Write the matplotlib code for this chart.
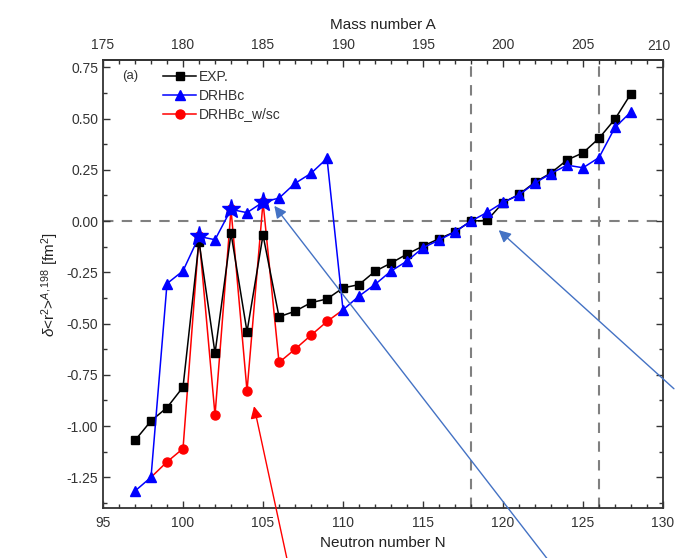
import numpy as np
import matplotlib
matplotlib.use('Agg')
import matplotlib.pyplot as plt
from matplotlib.ticker import MultipleLocator, FormatStrFormatter, FuncFormatter

plt.rcParams['font.family'] = ['Liberation Sans', 'DejaVu Sans']
plt.rcParams['mathtext.fontset'] = 'custom'
plt.rcParams['mathtext.rm'] = 'Liberation Sans'
plt.rcParams['mathtext.it'] = 'Liberation Sans:italic'
plt.rcParams['axes.unicode_minus'] = False

Z = 80  # mercury, A = N + Z

# EXP. isotope shifts relative to A=198
n_exp = [97, 98, 99, 100, 101, 102, 103, 104, 105, 106, 107, 108, 109, 110, 111, 112,
         113, 114, 115, 116, 117, 118, 119, 120, 121, 122, 123, 124, 125, 126, 127, 128]
exp = [-1.07, -0.975, -0.91, -0.81, -0.10, -0.645, -0.06, -0.54, -0.068, -0.467, -0.440,
       -0.398, -0.38, -0.326, -0.31, -0.245, -0.205, -0.161, -0.122, -0.086, -0.052, 0.0,
       0.003, 0.09, 0.13, 0.19, 0.235, 0.298, 0.333, 0.404, 0.498, 0.622]

# DRHBc
n_drhbc = list(range(97, 129))
drhbc = [-1.317, -1.25, -0.305, -0.243, -0.075, -0.091, 0.057, 0.041, 0.093, 0.112, 0.184,
         0.233, 0.306, -0.433, -0.366, -0.309, -0.244, -0.195, -0.13, -0.093, -0.052, 0.0,
         0.042, 0.091, 0.128, 0.186, 0.232, 0.273, 0.26, 0.31, 0.457, 0.533]

# DRHBc with shape coexistence (end points shared with DRHBc)
n_wsc = list(range(98, 111))
wsc = [-1.25, -1.175, -1.11, -0.075, -0.947, 0.057, -0.829, 0.093, -0.69, -0.625,
       -0.557, -0.49, -0.433]

# odd-N isotopes where the w/sc solution is picked up
n_star = [101, 103, 105]

fig = plt.figure(figsize=(6.76, 5.58), dpi=100)
ax = fig.add_axes([0.1524, 0.0896, 0.8284, 0.8029])

# reference lines: N=118 (A=198), N=126 shell closure, zero shift
ax.axhline(0, color='#808080', lw=1.5, dashes=(5, 4), zorder=1)
ax.axvline(118, color='#808080', lw=1.5, dashes=(5, 4), zorder=1)
ax.axvline(126, color='#808080', lw=1.5, dashes=(5, 4), zorder=1)

ax.plot(n_wsc, wsc, color='#ff0000', marker='o', ms=6.5, lw=1.1, zorder=2,
        markevery=list(range(1, len(n_wsc) - 1)), label='DRHBc_w/sc')
ax.plot(n_exp, exp, color='black', marker='s', ms=6, lw=1.1, zorder=3, label='EXP.')
ax.plot(n_drhbc, drhbc, color='#0000ff', marker='^', ms=7.5, lw=1.1, zorder=4,
        label='DRHBc')
star_y = [wsc[n_wsc.index(n)] for n in n_star]
ax.plot(n_star, star_y, ls='none', color='#0000ff', marker='*', ms=14, zorder=5)

ax.set_xlim(95, 130)
ax.set_ylim(-1.40, 0.786)
ax.xaxis.set_major_locator(MultipleLocator(5))
ax.xaxis.set_minor_locator(MultipleLocator(1))
ax.yaxis.set_major_locator(MultipleLocator(0.25))
ax.yaxis.set_minor_locator(MultipleLocator(0.125))
ax.yaxis.set_major_formatter(FormatStrFormatter('%.2f'))
ax.tick_params(which='both', direction='in', right=True, top=False, labelsize=10,
               colors='#333333', width=1)
ax.tick_params(which='major', length=5)
ax.tick_params(which='minor', length=3)
ax.tick_params(axis='x', pad=6)
for sp in ax.spines.values():
    sp.set_linewidth(1.3)
    sp.set_color('#333333')

top = ax.secondary_xaxis('top', functions=(lambda n: n + Z, lambda a: a - Z))
top.xaxis.set_major_locator(MultipleLocator(5))
top.xaxis.set_minor_locator(MultipleLocator(1))
# last label sits on the figure edge, drawn separately below
top.xaxis.set_major_formatter(FuncFormatter(lambda a, pos: '' if a > 209 else '%d' % a))
top.tick_params(which='both', direction='in', labelsize=10, colors='#333333', width=1)
top.tick_params(which='major', length=5, pad=6)
top.tick_params(which='minor', length=3)
top.spines['top'].set_linewidth(1.3)
top.spines['top'].set_color('#333333')
top.set_xlabel('Mass number A', fontsize=11, color='#222222', labelpad=6)
ax.annotate('210', xy=(1, 1), xycoords='axes fraction', xytext=(-3, 5),
            textcoords='offset points', ha='center', va='bottom', fontsize=10,
            color='#333333')

ax.set_xlabel('Neutron number N', fontsize=11, color='#222222', labelpad=4)
ax.set_ylabel(r'$\delta$<r$^2$>$^{A,198}$ [fm$^2$]', fontsize=11, color='#222222',
              labelpad=4)

handles, labels = ax.get_legend_handles_labels()
order = [1, 2, 0]
ax.legend([handles[i] for i in order], [labels[i] for i in order], loc='upper left',
          bbox_to_anchor=(0.09, 1.0), frameon=False, fontsize=10, handlelength=2.4,
          handletextpad=0.2, labelspacing=0.35, borderaxespad=0.3,
          labelcolor='#333333')
ax.text(0.035, 0.965, '(a)', transform=ax.transAxes, fontsize=9.5, color='#333333',
        va='center')

# pointer arrows
blue_arrow = dict(arrowstyle='-|>', color='#4472c4', lw=1.0, mutation_scale=18)
ax.annotate('', xy=(105.6, 0.085), xytext=(0.815, -0.01), textcoords='figure fraction',
            arrowprops=blue_arrow, annotation_clip=False, zorder=6)
ax.annotate('', xy=(119.6, -0.035), xytext=(1.0, 0.30), textcoords='figure fraction',
            arrowprops=blue_arrow, annotation_clip=False, zorder=6)
ax.annotate('', xy=(104.4, -0.89), xytext=(0.426, -0.01), textcoords='figure fraction',
            arrowprops=dict(arrowstyle='-|>', color='#ff0000', lw=1.0, mutation_scale=18),
            annotation_clip=False, zorder=6)

fig.savefig('out.png', dpi=100)
